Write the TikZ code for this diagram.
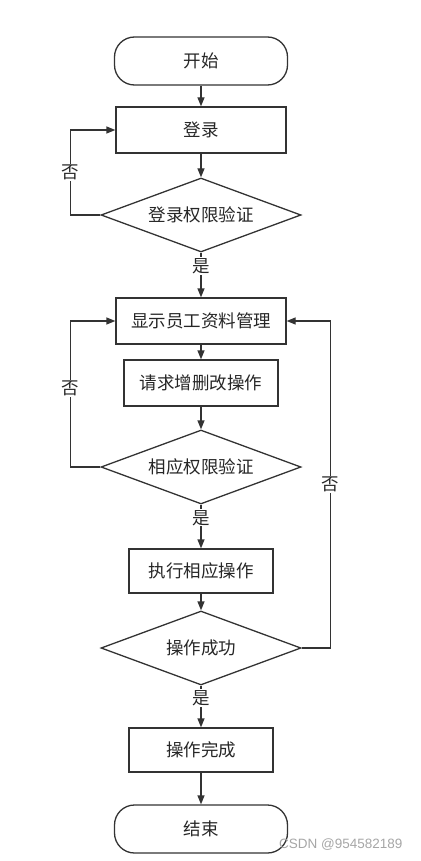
\documentclass[tikz,border=0pt]{standalone}
\usepackage{fontspec}
\setmainfont{Noto Sans CJK SC}
\newfontfamily\markfont{Liberation Sans}
\usetikzlibrary{arrows.meta, shapes.geometric}
\colorlet{flowline}{black!80}

\begin{document}
\begin{tikzpicture}[x=1pt, y=-1pt, >={Triangle[length=9pt, width=7pt]},
    every node/.style={font=\fontsize{17.5}{19}\selectfont, text=black!85},
    stepbox/.style={draw=flowline, line width=1.3pt, minimum width=#1, minimum height=46pt, inner sep=0pt},
    terminal/.style={draw=flowline, line width=1.3pt, rounded corners=20pt, minimum width=173pt, minimum height=48pt, inner sep=0pt},
    decision/.style={diamond, aspect=2.7, draw=flowline, line width=1.3pt, minimum width=200pt, minimum height=74pt, inner sep=0pt},
    flow/.style={->, draw=flowline, line width=1.3pt},
    tag/.style={fill=white, inner sep=1pt}]
    \useasboundingbox (0,0) rectangle (420,861);

    \node[terminal] (start) at (201,61) {开始};
    \node[stepbox=170pt] (login) at (201,130) {登录};
    \node[decision] (check) at (201,215) {登录权限验证};
    \node[stepbox=170pt] (show) at (201,321) {显示员工资料管理};
    \node[stepbox=154pt] (request) at (201,383) {请求增删改操作};
    \node[decision] (auth) at (201,467) {相应权限验证};
    \node[stepbox=144pt, minimum height=44pt] (exec) at (201,571) {执行相应操作};
    \node[decision] (ok) at (201,648) {操作成功};
    \node[stepbox=144pt, minimum height=44pt] (done) at (201,750) {操作完成};
    \node[terminal] (end) at (201,829) {结束};

    \draw[flow] (start) -- (login);
    \draw[flow] (login) -- (check);
    \draw[flow] (check) -- node[tag, pos=0.3] {是} (show);
    \draw[flow] (show) -- (request);
    \draw[flow] (request) -- (auth);
    \draw[flow] (auth) -- node[tag, pos=0.3] {是} (exec);
    \draw[flow] (exec) -- (ok);
    \draw[flow] (ok) -- node[tag, pos=0.3] {是} (done);
    \draw[flow] (done) -- (end);

    \draw[flow] (check.west) -- ++(-30,0) |- node[tag, pos=0.25] {否} (login.west);
    \draw[flow] (auth.west) -- ++(-30,0) |- node[tag, pos=0.27] {否} (show.west);
    \draw[flow] (ok.east) -- ++(29,0) |- node[tag, pos=0.25] {否} (show.east);

    \node[anchor=east, text=black!35, font=\fontsize{13.5}{15}\selectfont\markfont] (mark) at (406,845) {CSDN @954582189};
\end{tikzpicture}
\end{document}
